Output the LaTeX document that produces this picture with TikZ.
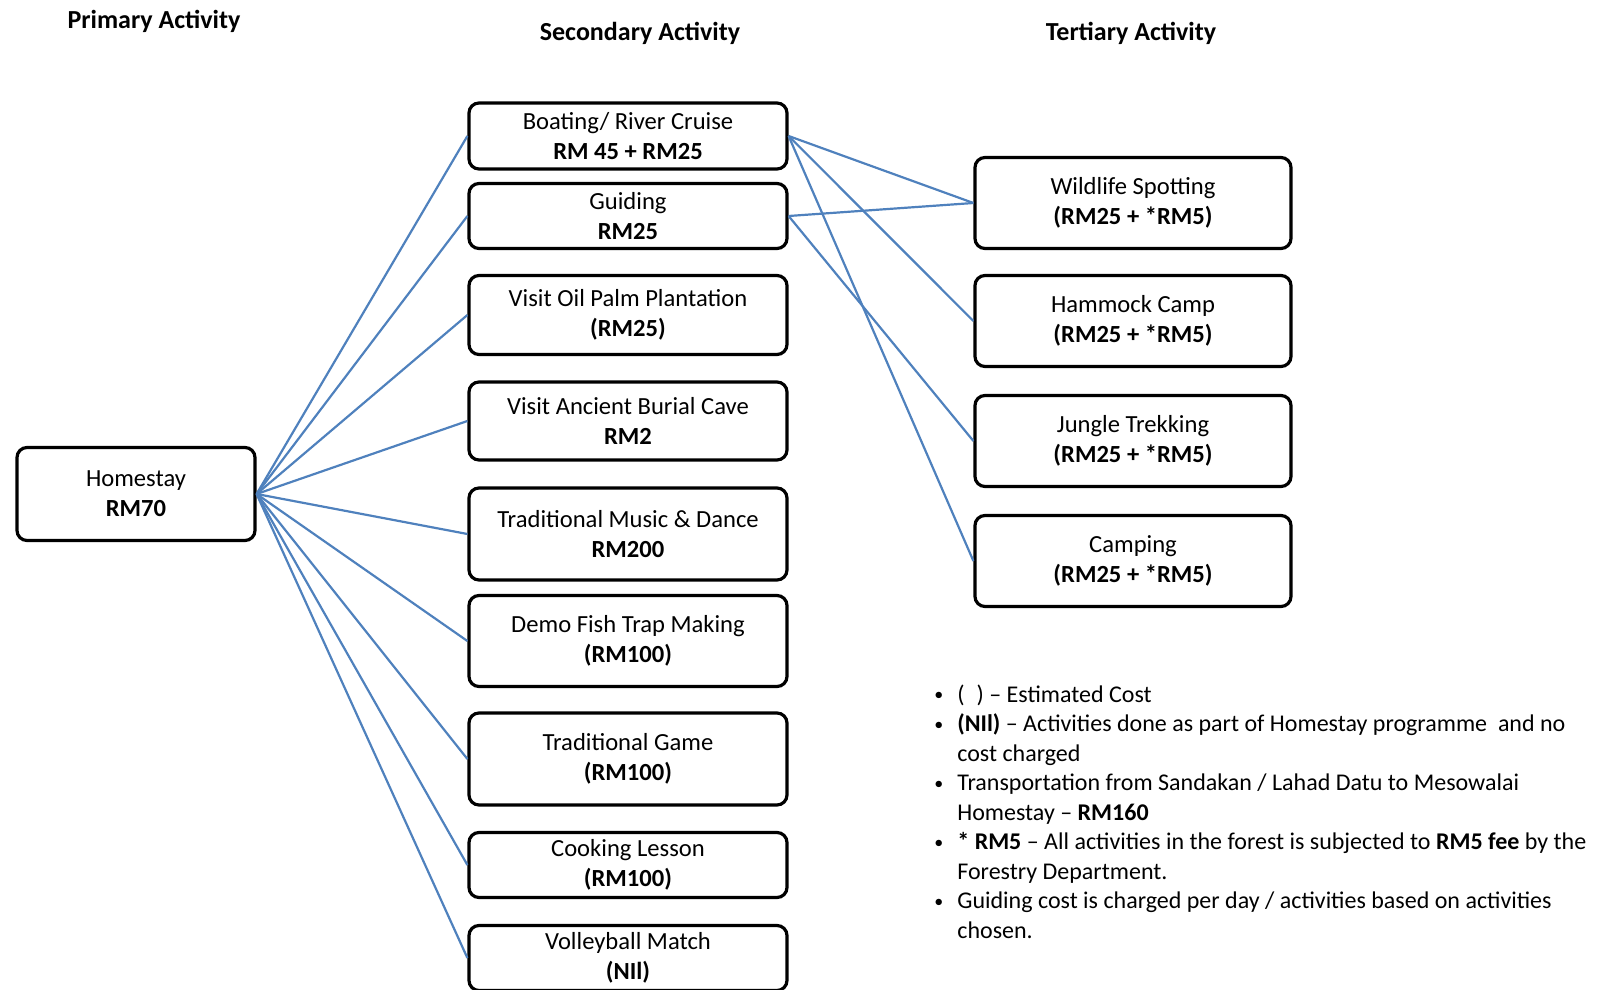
\documentclass[tikz,border=0pt]{standalone}
\usepackage{fontspec}
\setmainfont{Carlito}
\usepackage{tikz}
\definecolor{linkblue}{RGB}{79,129,189}
\newcommand{\notedot}{\raisebox{0.6pt}{\small\textbullet}}

\begin{document}
\begin{tikzpicture}[x=0.5pt,y=-0.5pt,
	act/.style={draw=black,line width=1.6pt,rounded corners=5pt,align=center,
		font=\fontsize{12.3}{15}\selectfont,inner sep=0pt},
	second/.style={act,minimum width=159pt},
	third/.style={act,minimum width=158pt,minimum height=45.5pt},
	head/.style={font=\fontsize{13}{15}\selectfont\bfseries},
	link/.style={draw=linkblue,line width=1.1pt}]
	\clip (0,0) rectangle (1612,990);

	\node[head] (h1) at (154, 21)  {Primary Activity};
	\node[head] (h2) at (640, 33)  {Secondary Activity};
	\node[head] (h3) at (1131, 33) {Tertiary Activity};

	\node[act,minimum width=119pt,minimum height=46.5pt] (home) at (136, 494) {Homestay\\\textbf{RM70}};

	\node[second,minimum height=33pt] (boat)   at (628, 136) {Boating/ River Cruise\\\textbf{RM 45 + RM25}};
	\node[second,minimum height=32.5pt] (guide) at (628, 216) {Guiding\\\textbf{RM25}};
	\node[second,minimum height=39.5pt] (palm)  at (628, 315) {Visit Oil Palm Plantation\\\textbf{(RM25)}};
	\node[second,minimum height=39pt] (cave)    at (628, 421) {Visit Ancient Burial Cave\\\textbf{RM2}};
	\node[second,minimum height=46pt] (music)   at (628, 534) {Traditional Music \& Dance\\\textbf{RM200}};
	\node[second,minimum height=45.5pt] (trap)  at (628, 641) {Demo Fish Trap Making\\\textbf{(RM100)}};
	\node[second,minimum height=46pt] (game)    at (628, 759) {Traditional Game\\\textbf{(RM100)}};
	\node[second,minimum height=32.5pt] (cook)  at (628, 865) {Cooking Lesson\\\textbf{(RM100)}};
	\node[second,minimum height=32.5pt] (volley) at (628, 958) {Volleyball Match\\\textbf{(NIl)}};

	\node[third] (wild)    at (1133, 203) {Wildlife Spotting\\\textbf{(RM25 + *RM5)}};
	\node[third] (hammock) at (1133, 321) {Hammock Camp\\\textbf{(RM25 + *RM5)}};
	\node[third] (jungle)  at (1133, 441) {Jungle Trekking\\\textbf{(RM25 + *RM5)}};
	\node[third] (camp)    at (1133, 561) {Camping\\\textbf{(RM25 + *RM5)}};

	\path[link] (home.east) edge (boat.west);
	\path[link] (home.east) edge (guide.west);
	\path[link] (home.east) edge (palm.west);
	\path[link] (home.east) edge (cave.west);
	\path[link] (home.east) edge (music.west);
	\path[link] (home.east) edge (trap.west);
	\path[link] (home.east) edge (game.west);
	\path[link] (home.east) edge (cook.west);
	\path[link] (home.east) edge (volley.west);

	\path[link] (boat.east) edge (wild.west);
	\path[link] (boat.east) edge (hammock.west);
	\path[link] (boat.east) edge (camp.west);
	\path[link] (guide.east) edge (wild.west);
	\path[link] (guide.east) edge (jungle.west);

	\node[anchor=north west,inner sep=0pt,align=left,font=\fontsize{12}{14.75}\selectfont] (notes) at (934, 681) {%
		\begin{tabular}{@{}l@{\hspace{7pt}}l@{}}
		\notedot & (\hspace{6pt}) -- Estimated Cost\\
		\notedot & \textbf{(NIl)} -- Activities done as part of Homestay programme\ \ and no\\
		 & cost charged\\
		\notedot & Transportation from Sandakan / Lahad Datu to Mesowalai\\
		 & Homestay -- \textbf{RM160}\\
		\notedot & \textbf{* RM5} -- All activities in the forest is subjected to \textbf{RM5 fee} by the\\
		 & Forestry Department.\\
		\notedot & Guiding cost is charged per day / activities based on activities\\
		 & chosen.
		\end{tabular}};
\end{tikzpicture}
\end{document}
